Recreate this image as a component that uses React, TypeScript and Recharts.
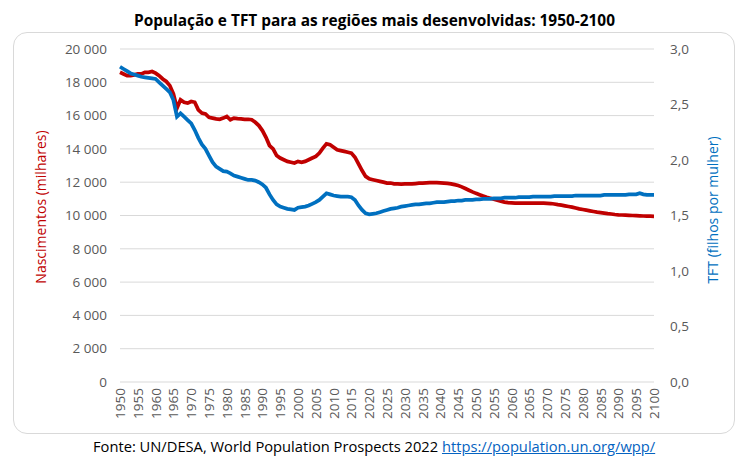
import { LineChart, Line, CartesianGrid, XAxis, YAxis } from 'recharts';

// anos 1950-2100 (categorias)
const years: number[] = Array.from({ length: 151 }, (_, i) => 1950 + i);

// nascimentos (milhares), regiões mais desenvolvidas
const births = [
  18600, 18500, 18400, 18400, 18450, 18500, 18500, 18600, 18600, 18650,
  18550, 18400, 18200, 18050, 17800, 17300, 16450, 16950, 16800, 16750,
  16850, 16800, 16350, 16150, 16100, 15900, 15850, 15800, 15780, 15850,
  15950, 15750, 15850, 15820, 15800, 15780, 15780, 15750, 15600, 15400,
  15100, 14700, 14200, 14000, 13600, 13450, 13350, 13250, 13200, 13150,
  13250, 13200, 13250, 13350, 13450, 13550, 13750, 14050, 14300, 14250,
  14100, 13950, 13900, 13850, 13800, 13750, 13500, 13100, 12700, 12350,
  12200, 12150, 12100, 12050, 12000, 11950, 11950, 11900, 11900, 11880,
  11900, 11900, 11900, 11920, 11940, 11950, 11960, 11970, 11970, 11970,
  11960, 11950, 11930, 11900, 11850, 11800, 11720, 11620, 11520, 11420,
  11330, 11250, 11170, 11100, 11040, 10980, 10920, 10860, 10800, 10770,
  10760, 10750, 10750, 10750, 10750, 10750, 10750, 10750, 10750, 10740,
  10730, 10720, 10690, 10650, 10620, 10580, 10540, 10500, 10450, 10400,
  10360, 10320, 10280, 10240, 10200, 10170, 10140, 10110, 10090, 10060,
  10040, 10030, 10020, 10010, 10000, 9990, 9980, 9970, 9960, 9955,
  9950,
];

// taxa de fecundidade total (filhos por mulher)
const tft = [
  2.84, 2.82, 2.8, 2.78, 2.77, 2.76, 2.75, 2.745, 2.74, 2.735,
  2.73, 2.7, 2.67, 2.64, 2.61, 2.54, 2.39, 2.42, 2.39, 2.36,
  2.33, 2.27, 2.2, 2.14, 2.1, 2.04, 1.98, 1.94, 1.92, 1.9,
  1.895, 1.88, 1.86, 1.85, 1.84, 1.83, 1.82, 1.82, 1.815, 1.8,
  1.78, 1.75, 1.69, 1.64, 1.6, 1.58, 1.57, 1.56, 1.555, 1.55,
  1.57, 1.575, 1.58, 1.59, 1.605, 1.62, 1.64, 1.67, 1.7, 1.69,
  1.68, 1.675, 1.67, 1.67, 1.67, 1.665, 1.64, 1.59, 1.55, 1.52,
  1.51, 1.515, 1.52, 1.53, 1.54, 1.55, 1.56, 1.565, 1.57, 1.58,
  1.585, 1.59, 1.595, 1.6, 1.6, 1.605, 1.61, 1.61, 1.615, 1.62,
  1.62, 1.62, 1.625, 1.63, 1.63, 1.635, 1.635, 1.64, 1.64, 1.64,
  1.645, 1.645, 1.65, 1.65, 1.65, 1.655, 1.655, 1.655, 1.66, 1.66,
  1.66, 1.66, 1.665, 1.665, 1.665, 1.665, 1.67, 1.67, 1.67, 1.67,
  1.67, 1.67, 1.675, 1.675, 1.675, 1.675, 1.675, 1.675, 1.68, 1.68,
  1.68, 1.68, 1.68, 1.68, 1.68, 1.68, 1.685, 1.685, 1.685, 1.685,
  1.685, 1.685, 1.685, 1.69, 1.69, 1.69, 1.7, 1.69, 1.685, 1.685,
  1.685,
];

const xTicks = years.filter((y) => y % 5 === 0);
const leftTicks = [0, 2000, 4000, 6000, 8000, 10000, 12000, 14000, 16000, 18000, 20000];
const rightTicks = [0, 0.5, 1, 1.5, 2, 2.5, 3];

const data = years.map((year, i) => ({ year, births: births[i], tft: tft[i] }));

const FONT = '"Open Sans", "Noto Sans", sans-serif';
const GREY = '#595959';
const RED = '#C00000';
const BLUE = '#0070C0';

const fmtThousands = (v: number) => (v >= 1000 ? `${Math.floor(v / 1000)} ${String(v % 1000).padStart(3, '0')}` : String(v));
const fmtDecimal = (v: number) => v.toFixed(1).replace('.', ',');

function YearTick(props: any) {
  const { x, y, payload } = props;
  return (
    <text
      x={x}
      y={y}
      transform={`rotate(-90, ${x}, ${y})`}
      textAnchor="end"
      dominantBaseline="central"
      fill={GREY}
      fontSize={13.5}
      fontFamily={FONT}
    >
      {payload.value}
    </text>
  );
}

export default function App() {
  return (
    <div style={{ position: 'absolute', left: 0, top: 0, width: 745, height: 467, background: '#fff', fontFamily: FONT }}>
      <svg width={745} height={32} style={{ position: 'absolute', left: 0, top: 0 }}>
        <text x={374.5} y={25.5} textAnchor="middle" fontSize={15.5} fontWeight={700} fill="#000" fontFamily={FONT}
          textLength={481} lengthAdjust="spacingAndGlyphs">
          População e TFT para as regiões mais desenvolvidas: 1950-2100
        </text>
      </svg>
      <div style={{ position: 'absolute', left: 13, top: 32, width: 722, height: 402, border: '1px solid #d9d9d9', borderRadius: 14, boxSizing: 'border-box' }} />
      <div style={{ position: 'absolute', left: 0, top: 0 }}>
        <LineChart width={745} height={467} data={data} margin={{ top: 49, right: 0, bottom: 0, left: 0 }}>
          <CartesianGrid vertical={false} stroke="#d9d9d9" yAxisId="left" />
          <XAxis
            dataKey="year"
            type="number"
            domain={[1950, 2100]}
            ticks={xTicks}
            interval={0}
            height={85}
            axisLine={false}
            tickLine={false}
            tickSize={0}
            tickMargin={6}
            tick={<YearTick />}
          />
          <YAxis
            yAxisId="left"
            orientation="left"
            domain={[0, 20000]}
            ticks={leftTicks}
            interval={0}
            width={120}
            axisLine={false}
            tickLine={false}
            tickSize={0}
            tickMargin={13}
            tickFormatter={fmtThousands}
            tick={{ fill: GREY, fontSize: 13.5, fontFamily: FONT }}
          />
          <YAxis
            yAxisId="right"
            orientation="right"
            domain={[0, 3]}
            ticks={rightTicks}
            interval={0}
            width={91}
            axisLine={false}
            tickLine={false}
            tickSize={0}
            tickMargin={16}
            tickFormatter={fmtDecimal}
            tick={{ fill: GREY, fontSize: 13.5, fontFamily: FONT }}
          />
          <Line yAxisId="left" type="linear" dataKey="births" stroke={RED} strokeWidth={3.75} dot={false} isAnimationActive={false} />
          <Line yAxisId="right" type="linear" dataKey="tft" stroke={BLUE} strokeWidth={3.75} dot={false} isAnimationActive={false} />
        </LineChart>
      </div>
      <div style={{ position: 'absolute', left: 40, top: 207, transform: 'translate(-50%, -50%) rotate(-90deg)', whiteSpace: 'nowrap', color: RED, fontSize: 14 }}>
        Nascimentos (milhares)
      </div>
      <div style={{ position: 'absolute', left: 712, top: 210, transform: 'translate(-50%, -50%) rotate(-90deg)', whiteSpace: 'nowrap', color: BLUE, fontSize: 14 }}>
        TFT (filhos por mulher)
      </div>
      <div style={{ position: 'absolute', left: 93, top: 436, whiteSpace: 'nowrap', fontSize: 14.7, color: '#000' }}>
        Fonte: UN/DESA, World Population Prospects 2022{' '}
        <a href="https://population.un.org/wpp/" style={{ color: '#0563C1', textDecoration: 'underline' }}>https://population.un.org/wpp/</a>
      </div>
    </div>
  );
}
